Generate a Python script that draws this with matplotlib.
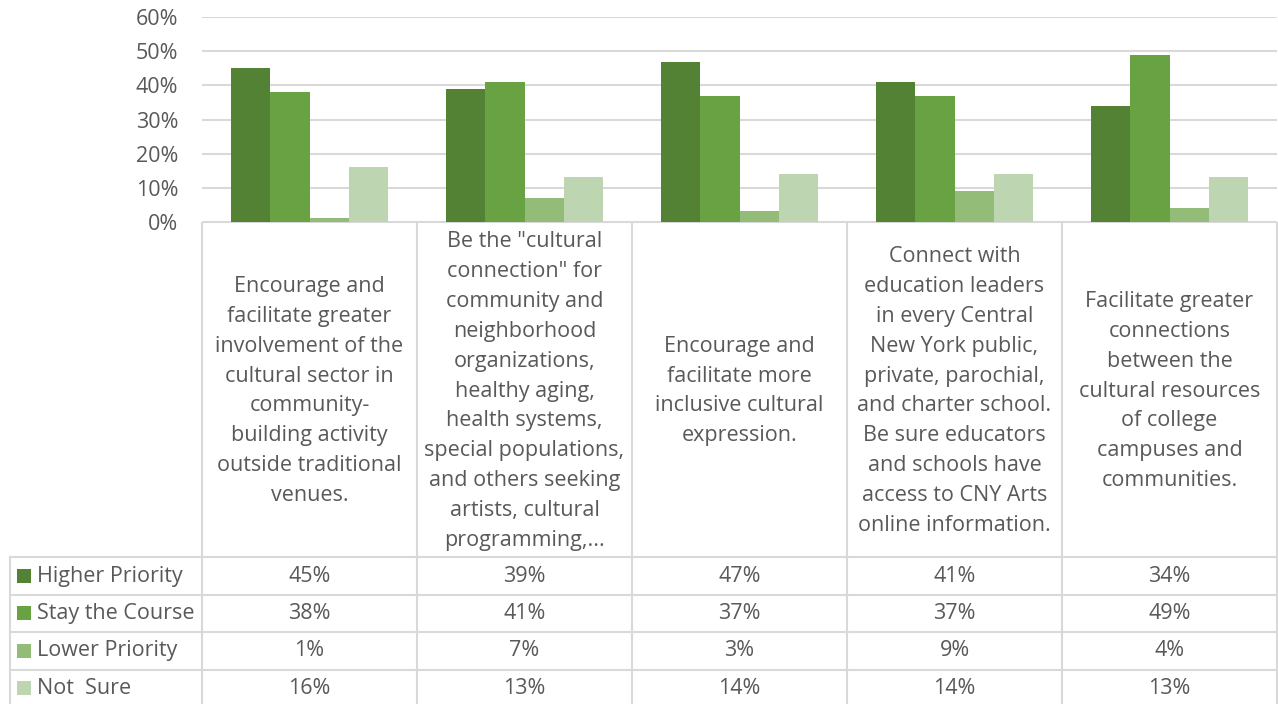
import matplotlib
matplotlib.use("Agg")
import matplotlib.pyplot as plt
from matplotlib.patches import Rectangle

# ---------------- data ----------------
categories = [
    "Encourage and\nfacilitate greater\ninvolvement of the\ncultural sector in\ncommunity-\nbuilding activity\noutside traditional\nvenues.",
    "Be the \"cultural\nconnection\" for\ncommunity and\nneighborhood\norganizations,\nhealthy aging,\nhealth systems,\nspecial populations,\nand others seeking\nartists, cultural\nprogramming,...",
    "Encourage and\nfacilitate more\ninclusive cultural\nexpression.",
    "Connect with\neducation leaders\nin every Central\nNew York public,\nprivate, parochial,\nand charter school.\nBe sure educators\nand schools have\naccess to CNY Arts\nonline information.",
    "Facilitate greater\nconnections\nbetween the\ncultural resources\nof college\ncampuses and\ncommunities.",
]
series_names = ["Higher Priority", "Stay the Course", "Lower Priority", "Not  Sure"]
higher_priority = [45, 39, 47, 41, 34]
stay_the_course = [38, 41, 37, 37, 49]
lower_priority = [1, 7, 3, 9, 4]
not_sure = [16, 13, 14, 14, 13]
y_ticks = [0, 10, 20, 30, 40, 50, 60]
y_tick_labels = ["0%", "10%", "20%", "30%", "40%", "50%", "60%"]

series_values = [higher_priority, stay_the_course, lower_priority, not_sure]
colors = ["#548235", "#68A242", "#93BC78", "#BDD5B1"]

# ---------------- style ----------------
FONT = ["Open Sans", "DejaVu Sans"]
TXT = "#595959"
GRID = "#D9D9D9"
FS = 15.5

W, H = 1278, 704
fig = plt.figure(figsize=(W / 100, H / 100), dpi=100)
fig.patch.set_facecolor("white")


def fx(px):
    return px / W


def fy(py):
    return 1 - py / H


PLOT_L, PLOT_R = 202, 1277
PLOT_T, PLOT_B = 17.3, 221.7

ax = fig.add_axes([fx(PLOT_L), fy(PLOT_B), fx(PLOT_R) - fx(PLOT_L), fy(PLOT_T) - fy(PLOT_B)])
n = len(categories)
bw = 0.182
for j, (vals, col) in enumerate(zip(series_values, colors)):
    xs = [i + (j - 1.5) * bw for i in range(n)]
    ax.bar(xs, vals, width=bw, color=col, zorder=3, linewidth=0)

ax.set_xlim(-0.5, n - 0.5)
ax.set_ylim(0, 60)
ax.set_yticks(y_ticks)
ax.set_yticklabels(y_tick_labels, fontsize=FS, color=TXT, family=FONT)
ax.tick_params(axis="y", length=0, pad=17)
ax.set_xticks([])
for s in ax.spines.values():
    s.set_visible(False)
ax.grid(axis="y", color=GRID, linewidth=1.5, zorder=0)
ax.set_axisbelow(True)

# ---------------- data table ----------------
u = (PLOT_R - PLOT_L) / n  # px per category
tax = fig.add_axes([0, 0, 1, fy(PLOT_B)])
tax.set_xlim(-0.5 - PLOT_L / u, n - 0.5 + (W - PLOT_R) / u)
tax.set_ylim(H, PLOT_B)
tax.axis("off")

LEG_L = -0.5 - (PLOT_L - 10) / u
HEAD_B = 557.3
ROW_H = 37.4
row_edges = [HEAD_B + k * ROW_H for k in range(len(series_names) + 1)]

lkw = dict(color=GRID, linewidth=1.5, zorder=1)
# vertical lines of category columns
for i in range(n + 1):
    tax.plot([i - 0.5, i - 0.5], [PLOT_B, H], **lkw)
# left line of legend column
tax.plot([LEG_L, LEG_L], [HEAD_B, H], **lkw)
# horizontal lines
for yv in row_edges[:-1]:
    tax.plot([LEG_L, n - 0.5], [yv, yv], **lkw)
tax.plot([-0.5, n - 0.5], [PLOT_B, PLOT_B], **lkw)

# category header text
head_c = (PLOT_B + HEAD_B) / 2 + 1.5
for i, cat in enumerate(categories):
    tax.text(i, head_c, cat, ha="center", va="center", multialignment="center",
             fontsize=FS, color=TXT, family=FONT, linespacing=1.56)

# rows
for r, (name, vals, col) in enumerate(zip(series_names, series_values, colors)):
    yc = (row_edges[r] + row_edges[r + 1]) / 2
    sq = 14 / u
    tax.add_patch(Rectangle((LEG_L + 7 / u, yc - 7), sq, 14, facecolor=col,
                            edgecolor="none", zorder=2))
    tax.text(LEG_L + 27 / u, yc, name, ha="left", va="center",
             fontsize=FS, color=TXT, family=FONT)
    for i, v in enumerate(vals):
        tax.text(i, yc, f"{v}%", ha="center", va="center",
                 fontsize=FS, color=TXT, family=FONT)

fig.savefig("out.png", dpi=100, facecolor="white")
